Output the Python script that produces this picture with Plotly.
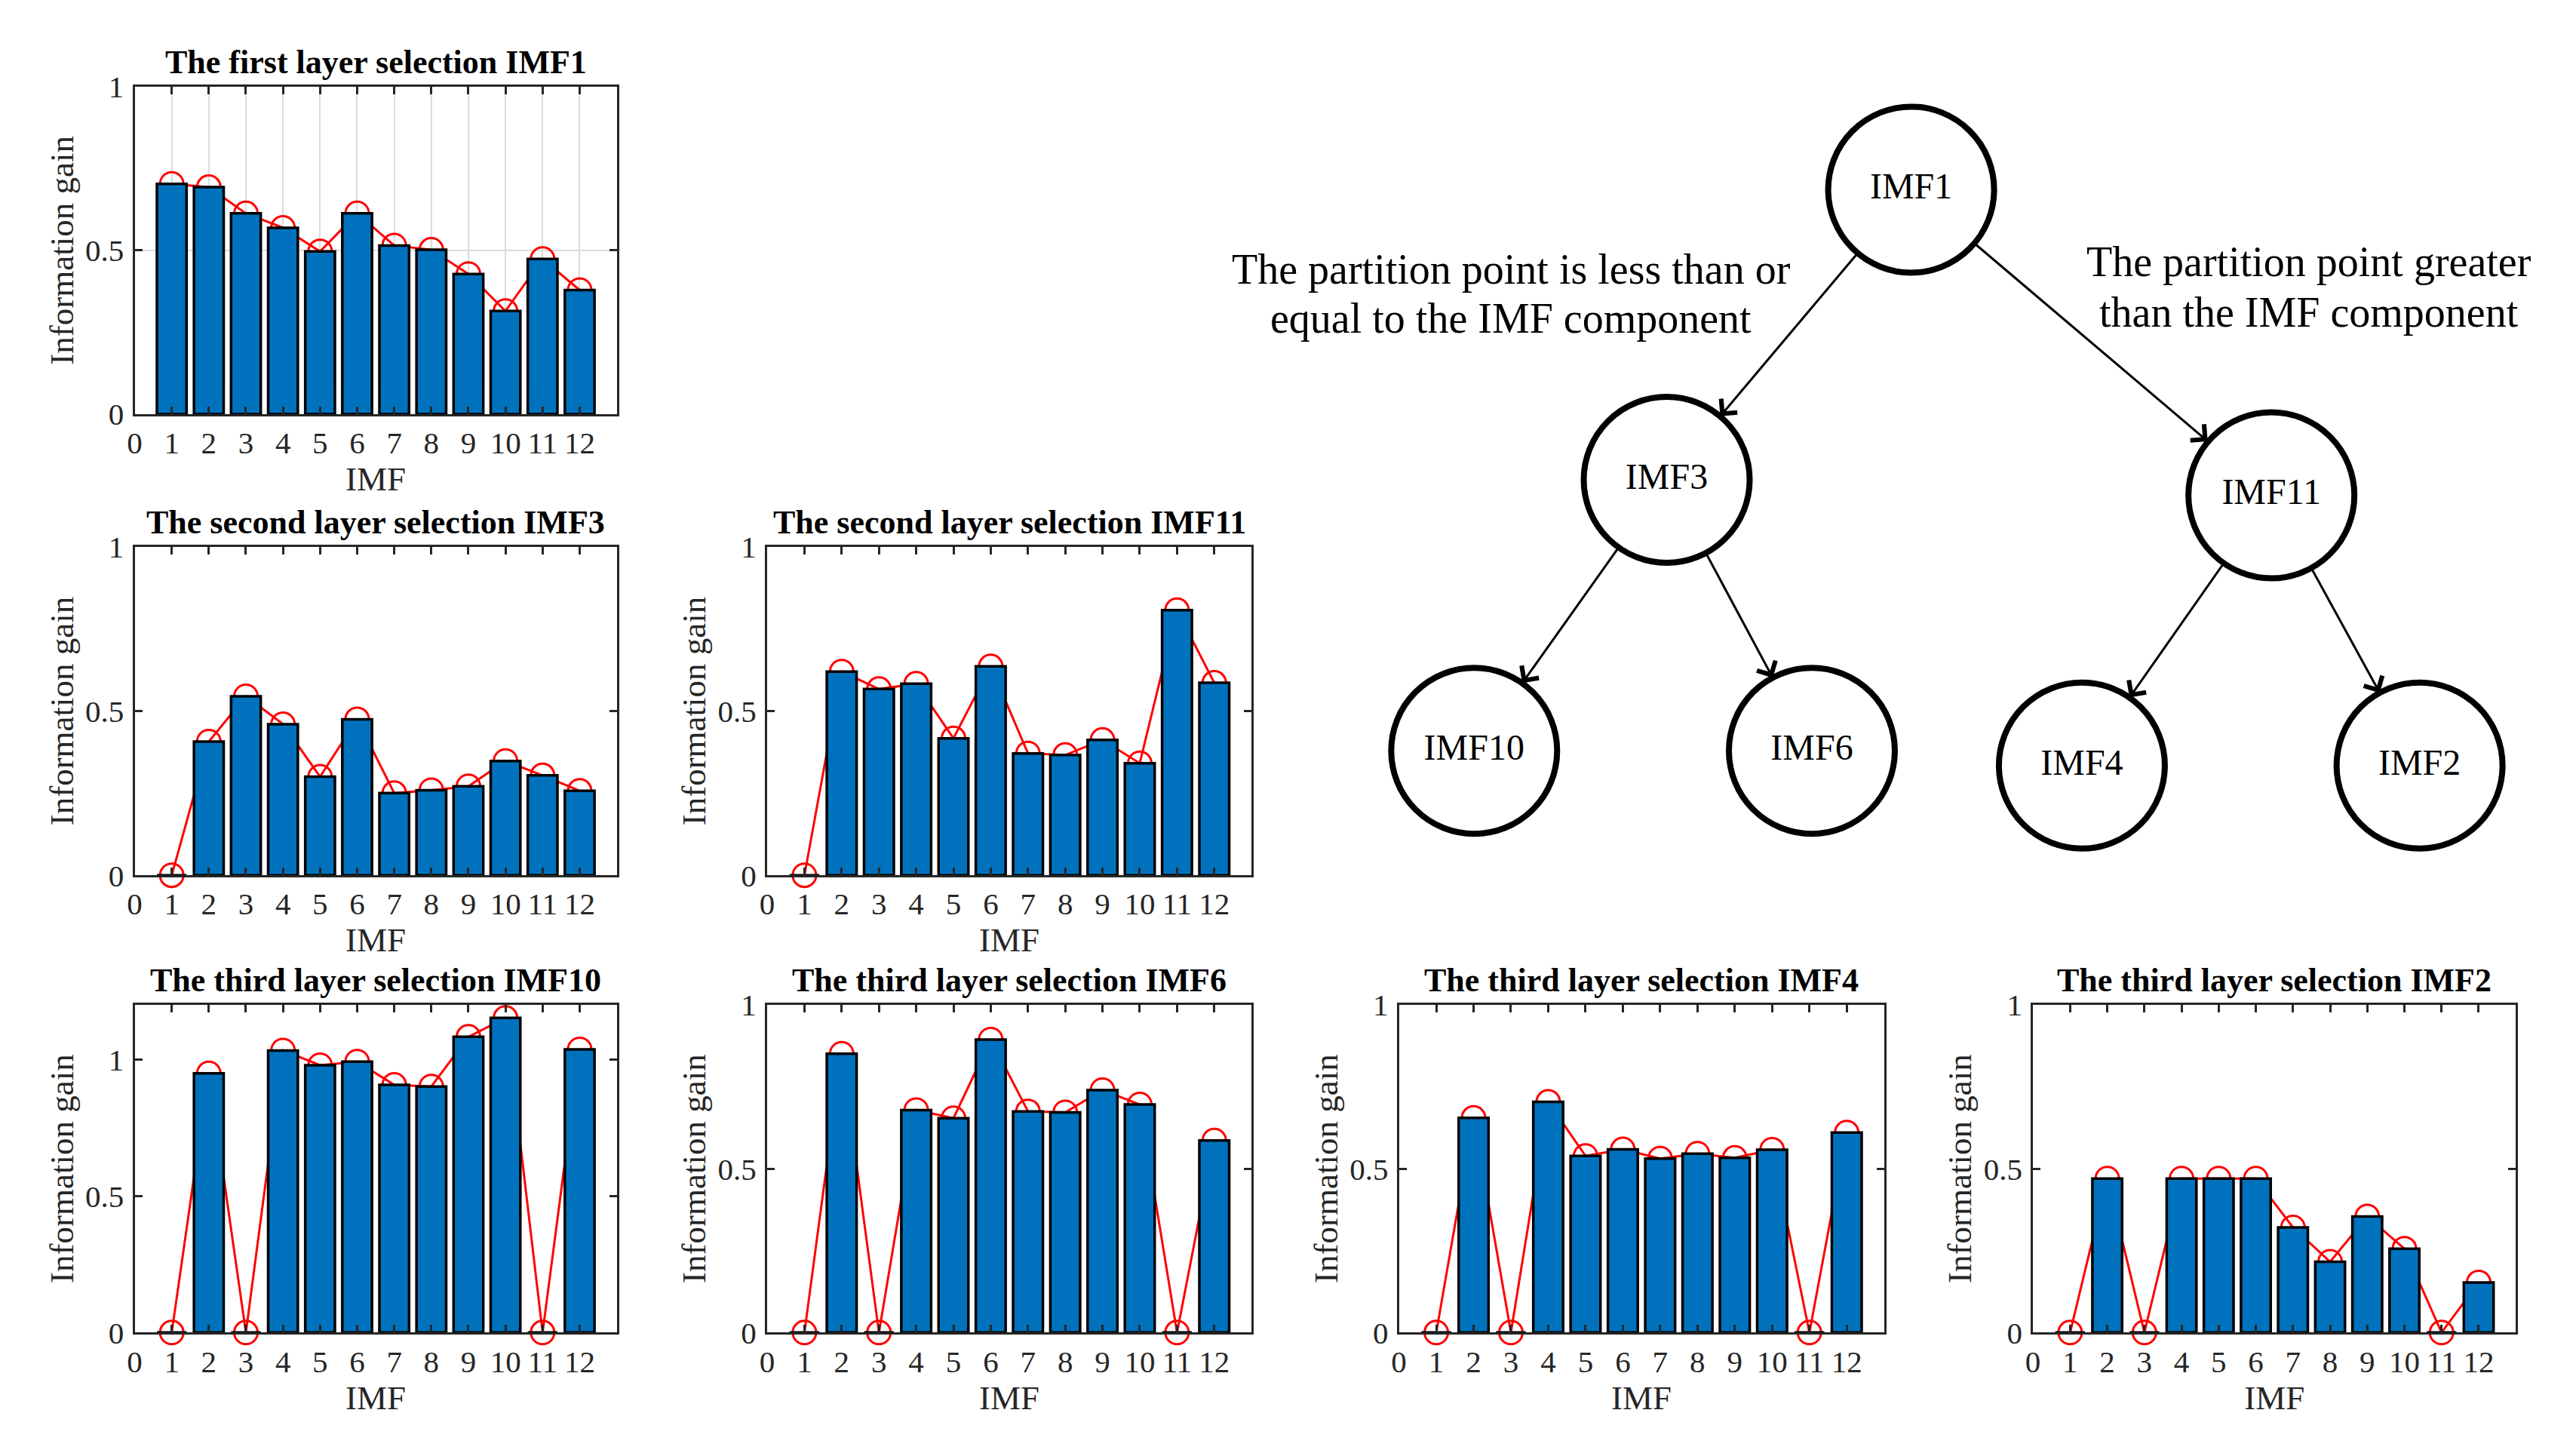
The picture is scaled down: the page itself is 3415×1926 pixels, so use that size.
import plotly.graph_objects as go

# ---------------- data ----------------
imf = list(range(1, 13))
x_tick_vals = list(range(0, 13))
y_tick_vals = [0, 0.5, 1]
y_tick_text = ["0", "0.5", "1"]

gain_layer1_imf1 = [0.703, 0.693, 0.613, 0.569, 0.497, 0.613, 0.515, 0.502, 0.428, 0.315, 0.474, 0.379]
gain_layer2_imf3 = [0.0, 0.407, 0.545, 0.460, 0.300, 0.475, 0.250, 0.259, 0.271, 0.348, 0.304, 0.257]
gain_layer2_imf11 = [0.0, 0.620, 0.567, 0.583, 0.417, 0.636, 0.371, 0.366, 0.412, 0.341, 0.807, 0.586]
gain_layer3_imf10 = [0.0, 0.949, 0.0, 1.033, 0.979, 0.992, 0.907, 0.901, 1.083, 1.152, 0.0, 1.037]
gain_layer3_imf6 = [0.0, 0.851, 0.0, 0.679, 0.654, 0.894, 0.675, 0.672, 0.740, 0.696, 0.0, 0.586]
gain_layer3_imf4 = [0.0, 0.655, 0.0, 0.704, 0.539, 0.559, 0.531, 0.546, 0.533, 0.558, 0.0, 0.610]
gain_layer3_imf2 = [0.0, 0.470, 0.0, 0.470, 0.470, 0.470, 0.321, 0.216, 0.354, 0.256, 0.0, 0.153]

panel_titles = [
    "The first layer selection IMF1",
    "The second layer selection IMF3",
    "The second layer selection IMF11",
    "The third layer selection IMF10",
    "The third layer selection IMF6",
    "The third layer selection IMF4",
    "The third layer selection IMF2",
]
panel_data = [gain_layer1_imf1, gain_layer2_imf3, gain_layer2_imf11,
              gain_layer3_imf10, gain_layer3_imf6, gain_layer3_imf4, gain_layer3_imf2]
panel_ymax = [1.0, 1.0, 1.0, 1.2, 1.0, 1.0, 1.0]
panel_grid = [True, False, False, False, False, False, False]

tree_labels = ["IMF1", "IMF3", "IMF11", "IMF10", "IMF6", "IMF4", "IMF2"]
tree_parent = [None, 0, 0, 1, 1, 2, 2]
left_branch_text = ["The partition point is less than or", "equal to the IMF component"]
right_branch_text = ["The partition point greater", "than the IMF component"]

# ---------------- layout (pixels of the 3415x1926 page) ----------------
W, H = 3415, 1926
panel_boxes = [  # left, right, top, bottom
    (169, 810, 94, 539),
    (169, 810, 719, 1165),
    (1010, 1654, 719, 1165),
    (169, 810, 1341, 1786),
    (1010, 1654, 1341, 1786),
    (1850, 2495, 1341, 1786),
    (2693, 3335, 1341, 1786),
]
tree_box = (1690, 3415, 100, 1200)
tree_node_x = [2531, 2206, 3010, 1950, 2399, 2758, 3207]
tree_node_y = [234, 628, 649, 996, 996, 1016, 1016]
node_r = 110
left_text_pos = (1999, [342, 409])
right_text_pos = (3060, [332, 401])

FONT = "Liberation Serif, Times New Roman, serif"
AX = "#262626"


def fx(v):
    return v / W


def fy(v):
    return 1 - v / H


fig = go.Figure()
layout = dict(
    width=W, height=H,
    margin=dict(l=0, r=0, t=0, b=0),
    paper_bgcolor="white", plot_bgcolor="white",
    showlegend=False,
    font=dict(family=FONT, color=AX),
)
annotations = []

for i, vals in enumerate(panel_data):
    b, o = 2 * i + 1, 2 * i + 2
    xb = "x" if b == 1 else f"x{b}"
    yb = "y" if b == 1 else f"y{b}"
    xo, yo = f"x{o}", f"y{o}"
    left, right, top, bottom = panel_boxes[i]
    ymax = panel_ymax[i]

    # red line with circle markers (drawn underneath the bars)
    fig.add_trace(go.Scatter(
        x=imf, y=vals, mode="lines+markers",
        line=dict(color="#FF0000", width=3),
        marker=dict(symbol="circle-open", size=31, color="#FF0000", line=dict(width=3)),
        cliponaxis=False, xaxis=xb, yaxis=yb, hoverinfo="x+y",
    ))
    # bars on an overlaid axis so they sit on top of the line
    fig.add_trace(go.Bar(
        x=imf, y=vals, width=0.8,
        marker=dict(color="#0072BD", line=dict(color="black", width=3.5)),
        xaxis=xo, yaxis=yo,
    ))

    bk = "xaxis" if b == 1 else f"xaxis{b}"
    byk = "yaxis" if b == 1 else f"yaxis{b}"
    common = dict(
        showline=True, linecolor=AX, linewidth=3, mirror="ticks",
        ticks="inside", ticklen=10, tickwidth=3, tickcolor=AX,
        tickfont=dict(family=FONT, size=41, color=AX),
        zeroline=False, fixedrange=True,
        gridcolor="#DCDCDC", gridwidth=2,
    )
    layout[bk] = dict(
        common, domain=[fx(left), fx(right)], range=[0, 13],
        tickvals=x_tick_vals, anchor=yb, showgrid=panel_grid[i],
        ticklabelstandoff=0,
        title=dict(text="IMF", font=dict(family=FONT, size=45, color=AX), standoff=8),
    )
    layout[byk] = dict(
        common, domain=[fy(bottom), fy(top)], range=[0, ymax],
        tickvals=y_tick_vals, ticktext=y_tick_text, anchor=xb, showgrid=panel_grid[i],
        ticklabelstandoff=3,
        title=dict(text="Information gain", font=dict(family=FONT, size=45, color=AX), standoff=2),
    )
    layout[f"xaxis{o}"] = dict(overlaying=xb, range=[0, 13], anchor=yo, visible=False, fixedrange=True)
    layout[f"yaxis{o}"] = dict(overlaying=yb, range=[0, ymax], anchor=xo, visible=False, fixedrange=True)

    annotations.append(dict(
        text=panel_titles[i], xref="paper", yref="paper",
        x=fx((left + right) / 2), y=fy(top - 33), xanchor="center", yanchor="middle",
        showarrow=False, font=dict(family=FONT, size=44, color="black", weight="bold"),
    ))

# ---------------- tree diagram ----------------
tx0, tx1, ty0, ty1 = tree_box
layout["xaxis15"] = dict(domain=[fx(tx0), fx(tx1)], range=[tx0, tx1], visible=False,
                         anchor="y15", fixedrange=True)
layout["yaxis15"] = dict(domain=[fy(ty1), fy(ty0)], range=[ty1, ty0], visible=False,
                         anchor="x15", fixedrange=True)

for k, p in enumerate(tree_parent):
    if p is None:
        continue
    px, py = tree_node_x[p], tree_node_y[p]
    cx, cy = tree_node_x[k], tree_node_y[k]
    dx, dy = cx - px, cy - py
    d = (dx * dx + dy * dy) ** 0.5
    ux, uy = dx / d, dy / d
    annotations.append(dict(
        xref="x15", yref="y15", axref="x15", ayref="y15",
        ax=px + node_r * ux, ay=py + node_r * uy,
        x=cx - (node_r + 2) * ux, y=cy - (node_r + 2) * uy,
        text="", showarrow=True, arrowhead=4, arrowsize=1.8, arrowwidth=3,
        arrowcolor="black", standoff=0, startstandoff=0,
    ))

fig.add_trace(go.Scatter(
    x=tree_node_x, y=tree_node_y, mode="markers+text",
    text=tree_labels, textposition="middle center",
    textfont=dict(family=FONT, size=48, color="black"),
    marker=dict(size=2 * node_r, color="white", line=dict(color="black", width=8)),
    cliponaxis=False, xaxis="x15", yaxis="y15", hoverinfo="text",
))

for (cx, ys), lines in ((left_text_pos, left_branch_text), (right_text_pos, right_branch_text)):
    for yv, line in zip(ys, lines):
        annotations.append(dict(
            text=line, xref="x15", yref="y15", x=cx, y=yv,
            xanchor="center", yanchor="middle", showarrow=False,
            font=dict(family=FONT, size=56, color="black"),
        ))

layout["annotations"] = annotations
fig.update_layout(**layout)
fig.write_html("out.html", config={"displayModeBar": False},
               post_script="document.body.style.margin='0';")
